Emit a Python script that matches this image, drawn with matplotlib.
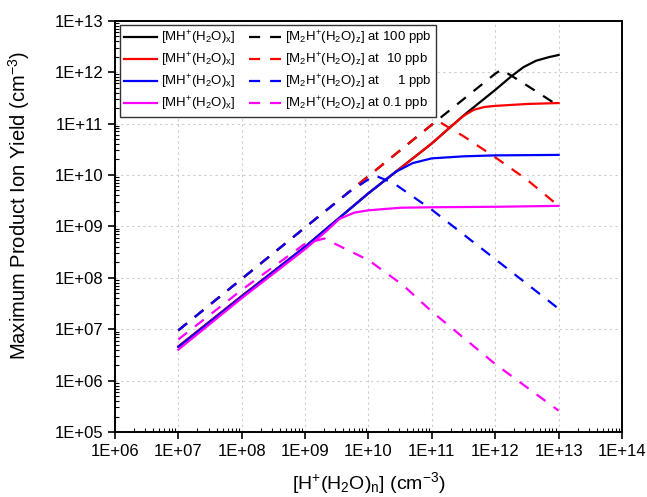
import matplotlib.pyplot as plt
from matplotlib.ticker import LogLocator, FixedLocator

plt.rcParams['font.family'] = ['Liberation Sans', 'DejaVu Sans']
plt.rcParams['mathtext.fontset'] = 'custom'
plt.rcParams['mathtext.rm'] = 'Liberation Sans'
plt.rcParams['mathtext.it'] = 'Liberation Sans:italic'

# solid curves: [MH+(H2O)x]
x_mh_100 = [1e7, 1e8, 1e9, 1e10, 1e11, 3.2e11, 1e12, 1.8e12, 2.8e12, 4.4e12, 7e12, 1e13]
y_mh_100 = [4.6e6, 4.4e7, 4.0e8, 4.4e9, 4.1e10, 1.45e11, 4.5e11, 8.3e11, 1.25e12, 1.66e12, 1.95e12, 2.15e12]

x_mh_10 = [1e7, 1e8, 1e9, 1e10, 1e11, 1.95e11, 3.2e11, 4.6e11, 6.8e11, 1e12, 3.2e12, 1e13]
y_mh_10 = [4.6e6, 4.4e7, 4.0e8, 4.4e9, 4.1e10, 8.5e10, 1.42e11, 1.85e11, 2.1e11, 2.2e11, 2.4e11, 2.5e11]

x_mh_1 = [1e7, 1e8, 1e9, 1e10, 2.7e10, 5e10, 1e11, 3.2e11, 1e12, 1e13]
y_mh_1 = [4.5e6, 4.3e7, 4.0e8, 4.4e9, 1.15e10, 1.7e10, 2.1e10, 2.3e10, 2.4e10, 2.45e10]

x_mh_01 = [1e7, 1e8, 1e9, 2.1e9, 3.5e9, 6e9, 1e10, 3.2e10, 1e11, 1e12, 1e13]
y_mh_01 = [4.0e6, 4.0e7, 3.6e8, 7.8e8, 1.4e9, 1.85e9, 2.05e9, 2.3e9, 2.35e9, 2.4e9, 2.5e9]

# dashed curves: [M2H+(H2O)z]
x_m2h_100 = [1e7, 1e8, 1e9, 1e10, 1e11, 1e12, 1.26e12, 3.4e12, 1e13]
y_m2h_100 = [9.5e6, 9.5e7, 9.5e8, 9.5e9, 9.5e10, 9.3e11, 1.12e12, 5.2e11, 2.2e11]

x_m2h_10 = [1e7, 1e8, 1e9, 1e10, 1e11, 1.2e11, 3.2e11, 1e12, 3.2e12, 1e13]
y_m2h_10 = [9.5e6, 9.5e7, 9.5e8, 9.5e9, 9.5e10, 1.15e11, 5.6e10, 2.2e10, 8.0e9, 2.5e9]

x_m2h_1 = [1e7, 1e8, 1e9, 5e9, 1.25e10, 2.5e10, 1e11, 1e12, 1e13]
y_m2h_1 = [9.5e6, 9.5e7, 9.5e8, 4.7e9, 9.8e9, 6.9e9, 2.1e9, 2.3e8, 2.5e7]

x_m2h_01 = [1e7, 1e8, 1e9, 2e9, 1e10, 3.5e10, 1e11, 1e12, 1e13]
y_m2h_01 = [6.3e6, 5.8e7, 4.6e8, 5.8e8, 2.2e8, 7.2e7, 2.2e7, 2.1e6, 2.6e5]

colors = ['black', 'red', 'blue', 'magenta']
conc_labels = ['100 ppb', ' 10 ppb', '    1 ppb', '0.1 ppb']

solids = [(x_mh_100, y_mh_100), (x_mh_10, y_mh_10), (x_mh_1, y_mh_1), (x_mh_01, y_mh_01)]
dashes = [(x_m2h_100, y_m2h_100), (x_m2h_10, y_m2h_10), (x_m2h_1, y_m2h_1), (x_m2h_01, y_m2h_01)]

fig = plt.figure(figsize=(6.47, 4.97), dpi=100)
ax = fig.add_axes([0.1777, 0.1308, 0.7836, 0.8276])

solid_handles = []
dash_handles = []
for (xs, ys), (xd, yd), c, lab in zip(solids, dashes, colors, conc_labels):
    h1, = ax.plot(xs, ys, color=c, lw=1.6,
                  label=r'[MH$^{+}$(H$_{2}$O)$_{\mathrm{x}}$]')
    h2, = ax.plot(xd, yd, color=c, lw=1.6, dashes=(5, 4.5),
                  label=r'[M$_{2}$H$^{+}$(H$_{2}$O)$_{\mathrm{z}}$] at ' + lab)
    solid_handles.append(h1)
    dash_handles.append(h2)

ax.set_xscale('log')
ax.set_yscale('log')
ax.set_xlim(1e6, 1e14)
ax.set_ylim(1e5, 1e13)

xt = [10.0 ** k for k in range(6, 15)]
yt = [10.0 ** k for k in range(5, 14)]
ax.xaxis.set_major_locator(FixedLocator(xt))
ax.yaxis.set_major_locator(FixedLocator(yt))
ax.set_xticklabels(['1E+%02d' % k for k in range(6, 15)])
ax.set_yticklabels(['1E+%02d' % k for k in range(5, 14)])
ax.xaxis.set_minor_locator(LogLocator(base=10, subs=range(2, 10), numticks=20))
ax.yaxis.set_minor_locator(LogLocator(base=10, subs=range(2, 10), numticks=20))
ax.xaxis.set_minor_formatter(plt.NullFormatter())
ax.yaxis.set_minor_formatter(plt.NullFormatter())

ax.tick_params(which='major', direction='out', length=5, width=1.2, labelsize=12)
ax.tick_params(which='minor', direction='in', length=3, width=0.8)
ax.tick_params(top=False, right=False)

ax.grid(True, which='major', linestyle=(0, (2, 3)), color='#cccccc', lw=0.8)
for s in ax.spines.values():
    s.set_linewidth(1.4)

ax.set_xlabel(r'[H$^{+}$(H$_{2}$O)$_{\mathrm{n}}$] (cm$^{-3}$)', fontsize=14, labelpad=8)
ax.set_ylabel(r'Maximum Product Ion Yield (cm$^{-3}$)', fontsize=14.5)
ax.yaxis.set_label_coords(-0.163, 0.55)

leg = ax.legend(solid_handles + dash_handles,
                [h.get_label() for h in solid_handles + dash_handles],
                ncol=2, loc='upper left', bbox_to_anchor=(0.01, 0.99),
                fontsize=9.5, frameon=True, fancybox=False, framealpha=1,
                edgecolor='#333333', handlelength=2.5, handletextpad=0.3,
                columnspacing=1.0, labelspacing=0.3, borderpad=0.3,
                borderaxespad=0.0)
leg.get_frame().set_linewidth(1.0)

plt.savefig('out.png', dpi=100)
